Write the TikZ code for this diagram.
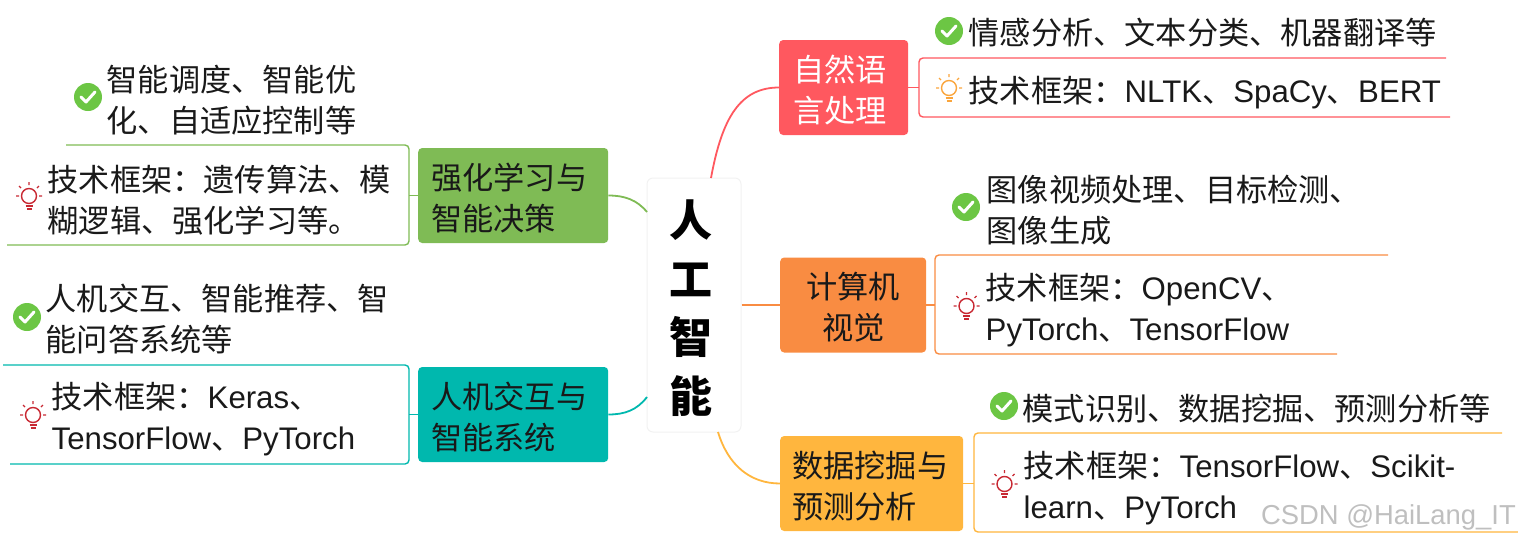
\documentclass[tikz,border=0pt]{standalone}
\usepackage{fontspec}
\setmainfont{Liberation Sans}
\newfontfamily\cjk{Noto Sans CJK SC}
\newcommand{\cn}[1]{{\cjk #1}}

\definecolor{nlpColor}{RGB}{255,88,95}
\definecolor{cvColor}{RGB}{249,140,66}
\definecolor{dmColor}{RGB}{255,182,62}
\definecolor{rlColor}{RGB}{127,187,85}
\definecolor{hciColor}{RGB}{0,184,174}
\definecolor{checkColor}{RGB}{108,198,68}
\definecolor{bulbRed}{RGB}{200,40,50}
\definecolor{bulbOrange}{RGB}{250,165,60}

\begin{document}
\begin{tikzpicture}[x=1pt,y=-1pt]
            \tikzset{branch/.style={rounded corners=4, inner xsep=12pt, inner ysep=0pt, minimum height=95pt, anchor=west, align=left, text=black!90, execute at begin node={\rule{0pt}{31.5pt}}, font=\fontsize{31.2}{41}\selectfont\cjk}}
            \tikzset{detail/.style={anchor=west, align=left, inner sep=0pt, text=black!90, font=\fontsize{31.2}{41}\selectfont}}
            \tikzset{frame/.style={line width=1.4pt, rounded corners=4}}
            \tikzset{link/.style={line width=1.8pt}}
            \tikzset{checkicon/.pic={
                \fill[checkColor] (0,0) circle (14);
                \draw[white, line width=3pt, line cap=round, line join=round] (-7,0) -- (-2,5) -- (7,-5);
            }}
            \tikzset{bulbicon/.pic={
                \draw[line width=1.4pt] (0,0) circle (7.5);
                \draw[line width=1.6pt] (-3.5,10) -- (3.5,10) (-2.5,13) -- (2.5,13);
                \draw[line width=1.2pt] (0,-11) -- (0,-14) (-8,-8) -- (-10,-10) (8,-8) -- (10,-10) (-10,0) -- (-13,0) (10,0) -- (13,0);
            }}
            \useasboundingbox (0,0) rectangle (1518,541);

            \node[draw=black!5, fill=white, rounded corners=6, line width=1pt, minimum width=94pt, minimum height=254pt, inner sep=0pt] (root) at (694,305) {};
            \node[inner sep=0pt, align=center, text=black, font=\fontsize{43}{58.5}\selectfont\cjk\bfseries] (rootText) at (691,308) {人\\工\\智\\能};

            \node[branch, fill=nlpColor, text=white, inner xsep=14pt, text width=101pt] (nlp) at (779,87.5) {自然语\\言处理};
            \node[branch, fill=cvColor, text width=122pt, align=center] (cv) at (780,305) {计算机\\视觉};
            \node[branch, fill=dmColor, text width=159pt] (dm) at (780,483.5) {数据挖掘与\\预测分析};
            \node[branch, fill=rlColor, inner xsep=13pt, text width=164pt] (rl) at (418,195.5) {强化学习与\\智能决策};
            \node[branch, fill=hciColor, inner xsep=13pt, text width=164pt] (hci) at (418,414.5) {人机交互与\\智能系统};

            % frames round the framework notes
            \draw[frame, color=nlpColor] (1446,58) -- (919,58) -- (919,117) -- (1450,117);
            \draw[frame, color=cvColor] (1388,255) -- (935,255) -- (935,354) -- (1337,354);
            \draw[frame, color=dmColor] (1502,433) -- (974,433) -- (974,532) -- (1518,532);
            \draw[frame, color=rlColor] (66,145) -- (409,145) -- (409,245) -- (7,245);
            \draw[frame, color=hciColor] (3,365) -- (409,365) -- (409,464) -- (10,464);

            \coordinate (nlpFrame) at (919,87.5);
            \coordinate (cvFrame) at (935,305);
            \coordinate (dmFrame) at (974,483.5);
            \coordinate (rlFrame) at (409,195.5);
            \coordinate (hciFrame) at (409,414.5);

            \coordinate (rootNlp) at (711,178);
            \coordinate (rootDm) at (718,432);
            \coordinate (rootRl) at (647,212);
            \coordinate (rootHci) at (647,397);

            \draw[link, color=nlpColor] (nlp) -- (nlpFrame);
            \draw[link, color=cvColor] (cv) -- (cvFrame);
            \draw[link, color=dmColor] (dm) -- (dmFrame);
            \draw[link, color=rlColor] (rl) -- (rlFrame);
            \draw[link, color=hciColor] (hci) -- (hciFrame);

            \draw[link, color=nlpColor] (rootNlp) .. controls (722,118) and (740,87.5) .. (nlp.west);
            \draw[link, color=cvColor] (root.east |- cv.west) -- (cv.west);
            \draw[link, color=dmColor] (rootDm) .. controls (728,465) and (750,483.5) .. (dm.west);
            \draw[link, color=rlColor] (rl.east) .. controls (625,195.5) and (637,200) .. (rootRl);
            \draw[link, color=hciColor] (hci.east) .. controls (625,414.5) and (637,410) .. (rootHci);

            \node[detail] (nlpUse) at (968.5,33) {\cn{情感分析、文本分类、机器翻译等}};
            \node[detail] (nlpTech) at (968.5,93) {\cn{技术框架：}NLTK\cn{、}SpaCy\cn{、}BERT};
            \node[detail] (cvUse) at (986.5,210) {\cn{图像视频处理、目标检测、}\\\cn{图像生成}};
            \node[detail] (cvTech) at (985.5,310) {\cn{技术框架：}OpenCV\cn{、}\\PyTorch\cn{、}TensorFlow};
            \node[detail] (dmUse) at (1022.5,409) {\cn{模式识别、数据挖掘、预测分析等}};
            \node[detail] (dmTech) at (1023.5,488) {\cn{技术框架：}TensorFlow\cn{、}Scikit-\\learn\cn{、}PyTorch};
            \node[detail] (rlUse) at (106.5,100) {\cn{智能调度、智能优}\\\cn{化、自适应控制等}};
            \node[detail] (rlTech) at (47.5,200) {\cn{技术框架：遗传算法、模}\\\cn{糊逻辑、强化学习等。}};
            \node[detail] (hciUse) at (45.5,319) {\cn{人机交互、智能推荐、智}\\\cn{能问答系统等}};
            \node[detail] (hciTech) at (51.5,419.5) {\cn{技术框架：}Keras\cn{、}\\TensorFlow\cn{、}PyTorch};

            \pic at (949,31) {checkicon};
            \pic at (966,207) {checkicon};
            \pic at (1004,406) {checkicon};
            \pic at (88,97) {checkicon};
            \pic at (27,317) {checkicon};

            \pic[color=bulbOrange] at (949,88) {bulbicon};
            \pic[color=bulbRed] at (966.5,306) {bulbicon};
            \pic[color=bulbRed] at (1004.5,484) {bulbicon};
            \pic[color=bulbRed] at (29,196) {bulbicon};
            \pic[color=bulbRed] at (33,415) {bulbicon};

            \node[anchor=east, inner sep=0pt, text=black!25, font=\fontsize{27.4}{30}\selectfont] (mark) at (1516,517) {CSDN @HaiLang\_IT};
        \end{tikzpicture}
\end{document}
